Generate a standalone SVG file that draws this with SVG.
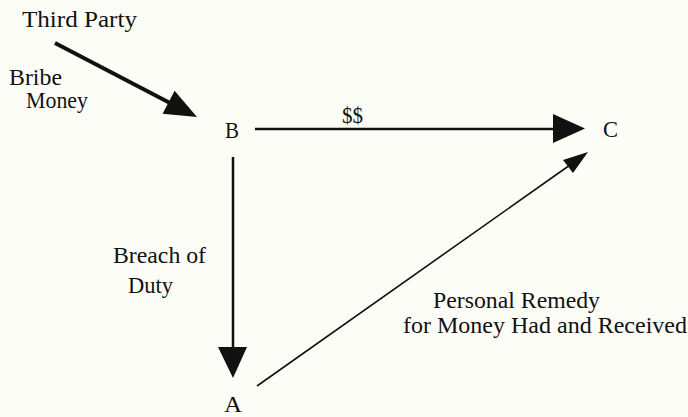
<svg xmlns="http://www.w3.org/2000/svg" width="688" height="417" viewBox="0 0 688 417">
<style>
text{font-family:'Liberation Serif','Times New Roman',Times,serif;font-size:23px;fill:#111}
.ln{stroke:#111;fill:none}
.hd{fill:#111;stroke:none}
</style>
<rect width="688" height="417" fill="#fdfdf8"/>
<g id="connectors">
<g id="e-third-b"><line class="ln" x1="55" y1="43" x2="170" y2="103" stroke-width="4"/><polygon class="hd" points="197,117 162.6,113.7 174.6,90.7"/></g>
<g id="e-b-c"><line class="ln" x1="255" y1="129" x2="556" y2="129" stroke-width="2.5"/><polygon class="hd" points="585,128.5 553,114 553,143"/></g>
<g id="e-b-a"><line class="ln" x1="233" y1="157" x2="233" y2="350" stroke-width="2.5"/><polygon class="hd" points="233,378 218,347 247,347"/></g>
<g id="e-a-c"><line class="ln" x1="257" y1="386" x2="570" y2="165" stroke-width="1.6"/><polygon class="hd" points="588,152 563,160 573,173"/></g>
<text x="342" y="123" textLength="21" lengthAdjust="spacingAndGlyphs">$$</text>
<text x="9" y="85" textLength="53" lengthAdjust="spacingAndGlyphs">Bribe</text>
<text x="26" y="108" textLength="62" lengthAdjust="spacingAndGlyphs">Money</text>
<text x="113" y="263" textLength="93" lengthAdjust="spacingAndGlyphs">Breach of</text>
<text x="128" y="293" textLength="45" lengthAdjust="spacingAndGlyphs">Duty</text>
<text x="433" y="308" textLength="167" lengthAdjust="spacingAndGlyphs">Personal Remedy</text>
<text x="403" y="333" textLength="284" lengthAdjust="spacingAndGlyphs">for Money Had and Received</text>
</g>
<g id="n-third"><text x="22" y="27" textLength="115" lengthAdjust="spacingAndGlyphs">Third Party</text></g>
<g id="n-b"><text x="225" y="138" textLength="14" lengthAdjust="spacingAndGlyphs">B</text></g>
<g id="n-c"><text x="603" y="137" textLength="15" lengthAdjust="spacingAndGlyphs">C</text></g>
<g id="n-a"><text x="224" y="412" textLength="18" lengthAdjust="spacingAndGlyphs">A</text></g>
</svg>
